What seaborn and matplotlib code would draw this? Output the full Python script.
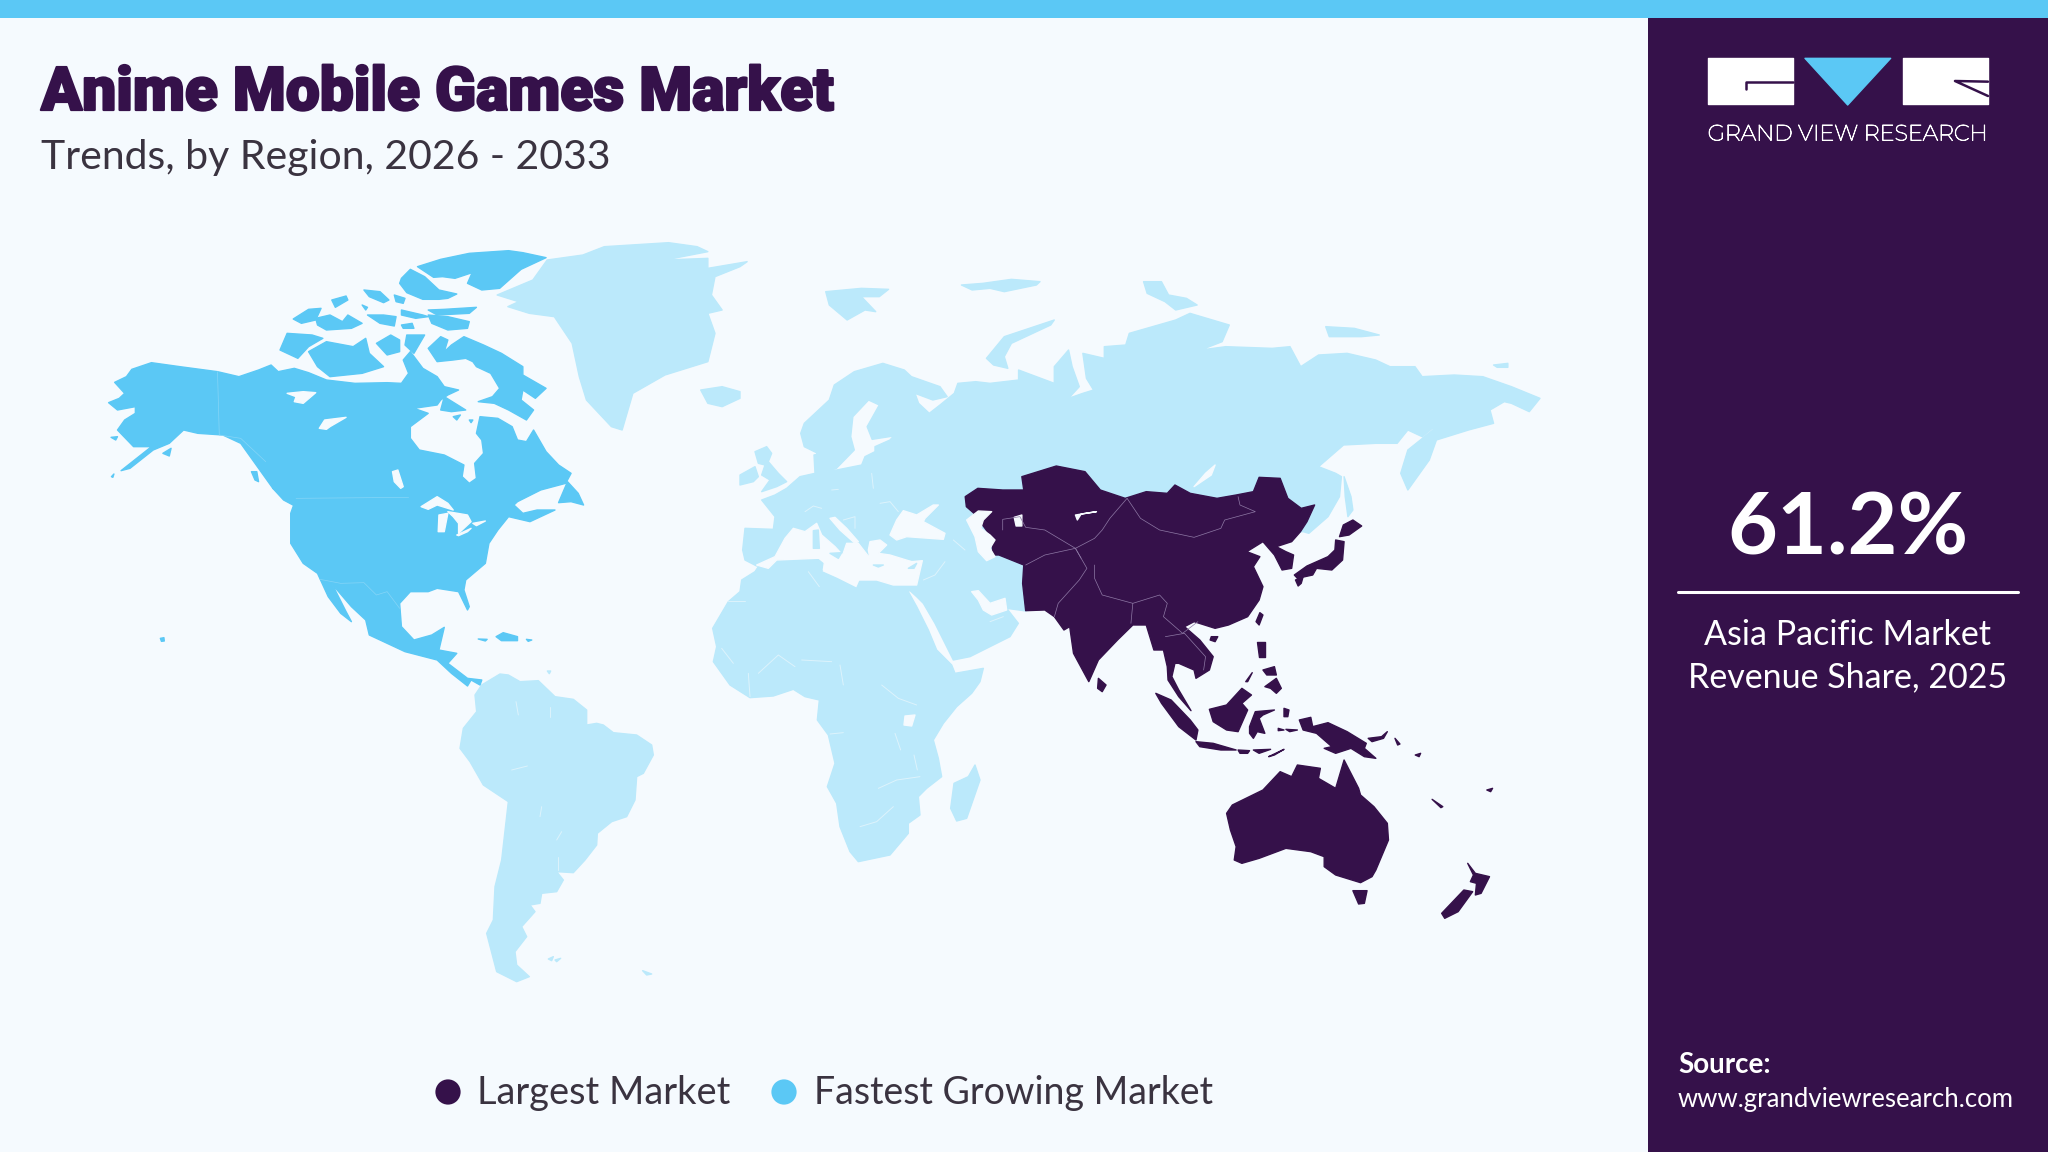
import matplotlib
matplotlib.use("Agg")
import matplotlib.pyplot as plt
import matplotlib.patheffects as pe
import pandas as pd
import seaborn as sns

TITLE = "Anime Mobile Games Market"
SUBTITLE = "Trends, by Region, 2026 - 2033"
LEGEND_LABELS = ["Largest Market", "Fastest Growing Market"]
SHARE_VALUE = "61.2%"
SHARE_LINES = ["Asia Pacific Market", "Revenue Share, 2025"]
SOURCE_LINES = ["Source:", "www.grandviewresearch.com"]
BRAND = "GRAND VIEW RESEARCH"

PURPLE = "#35114A"
BLUE = "#5BC8F5"
PALE = "#BBE9FB"
BG = "#F5FAFE"

# Map outlines: each frame is (x origin, y origin, x scale, y scale) of the tracing sheet
FRAMES = {"na": (80, 220, 2.8, 3), "ap": (930, 440, 2.613, 3), "ar": (440, 230, 1.4, 3),
          "eu": (690, 440, 3, 3), "af": (690, 550, 3, 3), "sa": (440, 660, 3, 3), "lg": (1660, 30, 3, 3)}

na_main = [(80,548),(110,535),(125,520),(97,487),(130,470),(145,448),(200,428),(280,440),(385,455),(445,470),(500,450),(535,435),(555,455),(600,445),(640,458),(690,480),(770,490),(860,488),(900,490),(920,460),(905,420),(925,395),(960,445),(1000,470),(1020,500),(1060,510),(1030,525),(1010,540),(1000,555),(935,565),(975,580),(925,620),(925,655),(950,690),(1020,705),(1075,735),(1070,770),(1090,790),(1110,775),(1105,730),(1130,700),(1125,660),(1110,640),(1120,590),(1170,595),(1210,620),(1225,660),(1250,665),(1270,630),(1305,695),(1340,735),(1375,760),(1360,790),(1290,810),(1225,845),(1215,855),(1240,880),(1280,870),(1330,870),(1260,905),(1200,890),(1170,930),(1145,970),(1135,1030),(1080,1080),(1075,1110),(1090,1160),(1085,1170),(1060,1115),(1000,1105),(975,1115),(925,1115),(895,1150),(900,1220),(935,1260),(985,1245),(1020,1222),(1005,1290),(1055,1300),(1030,1330),(1085,1375),(1125,1380),(1120,1395),(1095,1380),(1085,1398),(1040,1360),(1000,1320),(910,1295),(810,1245),(800,1200),(760,1160),(720,1110),(705,1090),(745,1175),(760,1205),(730,1180),(695,1130),(665,1060),(625,1030),(590,970),(590,880),(600,850),(540,805),(510,760),(450,670),(400,645),(330,640),(290,630),(250,670),(205,690),(140,745),(115,752),(200,680),(150,680),(105,630),(125,600),(155,580),(155,560),(105,570)]
na_islands = [
 [(945,140),(1010,118),(1090,100),(1200,92),(1240,98),(1305,113),(1235,148),(1175,205),(1125,210),(1085,190),(1098,158),(1050,175),(1015,170),(990,172)],
 [(900,175),(925,148),(965,170),(1005,210),(1055,222),(1030,235),(1005,238),(960,238),(915,218),(895,190)],
 [(975,285),(1030,290),(1090,305),(1085,325),(1030,330),(985,310)],
 [(975,270),(1020,268),(1110,262),(1090,280),(1000,285)],
 [(795,210),(840,215),(865,240),(850,248),(810,230)],
 [(880,225),(910,235),(905,250),(885,245)],
 [(900,270),(960,285),(975,290),(940,295),(900,285)],
 [(805,285),(850,285),(885,290),(880,318),(840,310)],
 [(900,315),(930,310),(935,325),(905,325)],
 [(705,240),(745,228),(750,240),(715,262)],
 [(790,255),(805,262),(800,270)],
 [(597,297),(640,268),(675,265),(660,300),(620,310)],
 [(660,295),(700,285),(735,305),(750,285),(790,310),(760,325),(690,330),(665,315)],
 [(560,390),(580,340),(650,345),(680,355),(640,380),(610,415)],
 [(640,395),(690,365),(765,380),(800,355),(810,400),(850,440),(790,460),(700,470),(665,440)],
 [(830,370),(870,345),(895,360),(895,395),(860,405)],
 [(915,345),(965,345),(935,400),(910,375)],
 [(975,385),(1010,350),(1030,360),(1020,395),(1040,375),(1075,350),(1130,375),(1180,400),(1240,440),(1240,465),(1305,505),(1275,535),(1240,510),(1235,540),(1270,570),(1250,600),(1200,570),(1160,550),(1115,545),(1155,530),(1175,505),(1150,460),(1110,440),(1100,425),(1080,415),(1045,420),(1000,425)],
 [(1020,530),(1080,570),(1040,575),(1010,570)],
 [(1045,590),(1065,585),(1055,600)],
 [(1090,600),(1100,600),(1095,608)],
 [(1365,785),(1395,820),(1410,855),(1375,845),(1340,848)],
 [(1165,1250),(1185,1238),(1225,1250),(1225,1262),(1180,1262)],
 [(1115,1257),(1140,1258),(1135,1263)],
 [(1250,1258),(1265,1260),(1255,1264)],
 [(225,1255),(235,1253),(236,1263),(228,1264)],
 [(540,805),(580,825),(605,860),(570,840)],
 [(480,755),(495,755),(500,785),(490,780)],
 [(232,700),(255,685),(250,708)],
 [(87,652),(105,650),(100,660)],
 [(88,770),(95,762),(92,772)],
]
na_water = [
 [(955,860),(1000,830),(1030,850),(1045,870),(1000,855),(975,868)],
 [(1005,885),(1030,880),(1020,935),(1003,935)],
 [(1030,875),(1085,885),(1095,905),(1060,940),(1060,910),(1045,890)],
 [(1055,945),(1095,925),(1085,935),(1060,947)],
 [(1100,910),(1135,903),(1110,917)],
 [(875,755),(890,750),(905,800),(898,805),(880,785)],
 [(670,625),(685,600),(745,592),(700,620),(690,628)],
 [(580,520),(625,515),(660,518),(625,550),(600,545),(605,530)],
 [(1120,480),(1145,475),(1148,490),(1125,495)],
]
na_borders = [[(605,835),(920,832)], [(385,455),(390,645),(450,655),(520,725)], [(672,1078),(730,1090),(795,1088),(830,1125),(860,1115),(895,1165)]]

# Eurasia ring, traced segment by segment
ea_north = [(505,610),(510,580),(545,510),(552,465),(580,425),(620,400),(650,420),(660,440),(700,470),(710,500),(690,510),(665,490),(670,520),(685,550),(700,525),(720,490),(725,460),(750,455),(770,460),(810,450),(810,420),(860,460),(860,410),(880,360),(885,410),(895,470),(880,505),(900,490),(915,480),(905,445),(900,370),(930,385),(930,350),(960,345),(965,310),(1030,270),(1050,250),(1105,285),(1095,335),(1065,360),(1100,350),(1165,355),(1190,350),(1205,410),(1230,375),(1270,370),(1310,390),(1330,410),(1365,410),(1375,440),(1420,435),(1460,440),(1500,470),(1540,505),(1525,545),(1500,520),(1490,515),(1470,540),(1475,580),(1440,600),(1395,630),(1385,690),(1355,780),(1345,730),(1355,660),(1390,600),(1395,585),(1375,620),(1355,600),(1340,640),(1310,640),(1265,645),(1230,710)]
ea_okhotsk = [(1060,100),(1075,110),(1070,170),(1040,230),(990,280),(975,275),(700,300),(250,510)]
ea_south = [(1008,513),(950,505),(985,550),(960,590),(900,620),(840,650),(790,660),(775,630),(735,550),(700,490),(680,470),(658,450),(675,435),(697,362),(540,355),(460,345),(200,378),(165,360),(158,330),(165,265),(250,268),(255,230),(215,180),(255,165),(290,145),(330,110),(375,100),(372,45),(395,40),(415,75),(400,95),(440,90),(515,75),(525,50),(555,35),(555,20),(600,0)]
ea_baltic = [(635,618),(605,628),(598,590),(615,525),(600,510),(578,560),(575,620),(580,660),(555,715),(533,725),(527,668),(510,650)]

eu_water = [
 [(200,375),(255,350),(285,295),(310,265),(345,275),(380,250),(395,285),(435,320),(458,345),(470,310),(505,310),(540,355),(535,330),(540,305),(570,300),(590,315),(565,340),(600,345),(665,365),(697,362),(680,435),(610,435),(560,420),(505,420),(495,420),(400,390),(405,355),(380,355),(260,360),(235,385)],
 [(420,235),(435,232),(470,265),(505,305),(495,310),(450,270)],
 [(600,285),(620,240),(640,212),(665,220),(680,225),(730,195),(745,195),(705,235),(700,245),(765,280),(760,298),(650,290),(620,300)],
 [(845,455),(865,452),(900,490),(945,475),(950,510),(905,525),(880,510),(865,480)],
]
eu_land = [
 [(195,35),(230,20),(245,40),(235,65),(265,100),(290,125),(260,140),(215,155),(240,120),(215,105),(225,75),(205,70)],
 [(150,105),(195,80),(205,110),(190,125),(150,135)],
 [(370,272),(385,270),(388,325),(370,325)],
 [(420,340),(455,338),(445,355)],
 [(550,375),(580,375),(565,381)],
 [(655,385),(680,370),(672,385)],
]
eu_lines = [[(345,215),(370,198),(395,205)], [(425,150),(445,148)], [(545,100),(550,145)], [(570,190),(600,185),(625,215)], [(460,240),(495,230),(495,265)], [(700,420),(735,405),(765,365)], [(790,300),(825,330)], [(900,545),(940,530)]]
ar_land = [
 [(80,195),(130,150),(150,90),(200,75),(230,50),(320,38),(360,50),(375,65),(315,90),(375,85),(375,115),(430,95),(420,110),(385,140),(380,195),(395,240),(375,250),(385,310),(375,395),(315,435),(270,490),(255,600),(240,590),(205,510),(195,440),(185,340),(160,260),(125,250),(95,230),(110,215)],
 [(365,480),(395,470),(420,485),(420,505),(395,530),(375,520)],
 [(540,185),(590,175),(628,178),(615,200),(590,200),(610,245),(595,240),(570,270),(545,225)],
 [(765,385),(790,320),(860,270),(855,285),(800,340),(790,380),(795,415),(775,405)],
 [(730,165),(760,160),(800,148),(840,155),(835,165),(790,185),(770,175),(745,180)],
 [(985,155),(1010,155),(1020,195),(1045,205),(1060,225),(1030,240),(1015,215),(990,190)],
 [(1240,290),(1280,295),(1315,315),(1290,320),(1245,320)],
 [(1475,405),(1495,400),(1495,412),(1480,412)],
]
ap_light = [[(1082,110),(1100,170),(1105,210),(1092,230),(1085,170)]]
africa = [(205,50),(285,32),(380,25),(405,45),(395,65),(440,85),(500,115),(510,92),(540,85),(610,105),(680,100),(655,125),(680,170),(715,240),(740,300),(785,345),(795,370),(880,355),(870,395),(845,430),(800,470),(760,520),(730,570),(745,625),(755,680),(710,715),(685,740),(690,795),(655,820),(655,850),(600,915),(505,935),(480,905),(450,830),(440,760),(412,710),(435,640),(415,555),(382,510),(388,450),(345,440),(310,418),(250,438),(180,443),(120,405),(70,335),(80,290),(68,235),(115,155),(150,125),(155,90),(195,65)]
madagascar = [(855,645),(870,690),(830,805),(800,813),(782,775),(792,700),(835,680)]
victoria = [(645,498),(675,495),(665,528),(642,525)]
af_lines = [[(115,153),(165,153)], [(175,370),(180,440)], [(205,370),(265,315),(315,350)], [(335,330),(425,335)], [(450,345),(460,405)], [(510,830),(560,815),(610,770)], [(565,715),(620,690),(690,680)], [(615,550),(632,600)], [(672,615),(682,660)], [(355,65),(388,110)], [(95,295),(130,340)], [(420,552),(460,548)], [(575,405),(625,445),(680,465)]]
south_america = [(125,75),(180,42),(205,45),(240,65),(295,62),(345,110),(400,118),(440,150),(440,195),(470,190),(490,195),(520,218),(590,225),(635,255),(640,285),(610,340),(590,350),(585,420),(560,470),(515,485),(472,520),(470,555),(435,600),(400,638),(350,635),(370,660),(350,695),(305,700),(300,730),(270,735),(285,755),(245,800),(260,830),(225,875),(230,915),(268,950),(230,965),(170,935),(140,820),(160,780),(165,680),(185,600),(205,425),(130,375),(90,305),(60,265),(70,205),(110,155),(105,105)]
sa_islands = [[(325,897),(340,890),(335,902)], [(345,900),(362,895),(350,905)], [(608,932),(635,942),(620,945)], [(322,33),(332,33),(328,41)]]
sa_lines = [[(228,125),(235,165)], [(330,140),(330,170)], [(300,470),(305,440)], [(350,540),(365,515)], [(355,590),(355,630)], [(215,330),(262,318)]]

ap_main = [(92,170),(125,145),(190,150),(245,150),(240,110),(330,78),(405,95),(445,150),(510,175),(565,155),(620,160),(640,135),(680,160),(750,175),(800,165),(845,155),(860,112),(915,115),(935,175),(970,205),(1005,195),(985,245),(968,275),(945,305),(905,320),(930,335),(950,345),(945,385),(920,390),(900,345),(870,305),(828,335),(862,350),(845,380),(870,440),(860,480),(830,530),(780,555),(745,565),(690,545),(665,560),(705,600),(740,650),(730,690),(695,715),(690,690),(650,670),(640,670),(632,710),(650,750),(682,812),(650,770),(622,720),(620,680),(610,630),(585,630),(565,555),(530,555),(490,600),(440,660),(415,725),(375,640),(365,560),(350,570),(325,530),(300,510),(250,512),(242,430),(245,375),(180,345),(165,345),(160,290),(150,275),(115,220),(95,200)]
ap_islands = [
 [(440,715),(460,735),(450,755),(438,745)],
 [(735,590),(752,590),(745,605),(732,600)],
 [(862,518),(870,525),(860,555),(852,545)],
 [(590,760),(630,780),(680,840),(700,870),(695,900),(650,860),(605,790)],
 [(695,905),(740,910),(800,930),(760,930),(705,920)],
 [(805,930),(835,932),(830,940),(810,940)],
 [(845,930),(890,928),(860,940)],
 [(885,950),(925,928),(900,945)],
 [(730,808),(775,795),(815,745),(840,765),(815,790),(830,810),(805,875),(775,870),(740,845)],
 [(835,860),(850,815),(900,810),(870,825),(860,835),(875,880),(855,875),(845,895),(835,880)],
 [(855,605),(875,605),(875,650),(860,650)],
 [(870,690),(900,680),(905,705),(880,705)],
 [(875,740),(905,715),(918,745),(905,760),(890,745)],
 [(825,725),(842,698),(830,725)],
 [(925,805),(938,810),(935,830),(925,830)],
 [(910,865),(925,870),(910,872)],
 [(930,868),(960,870),(940,875)],
 [(965,840),(995,832),(1000,860),(1040,848),(1090,875),(1140,910),(1135,925),(1165,955),(1135,950),(1100,925),(1060,940),(1030,925),(1050,920),(1010,880),(975,870)],
 [(1145,895),(1180,890),(1195,875),(1185,895),(1155,905)],
 [(1215,895),(1228,912),(1222,915)],
 [(1268,945),(1282,940),(1278,950)],
 [(1312,1078),(1340,1100),(1335,1103)],
 [(1455,1050),(1470,1045),(1465,1055)],
 [(775,1120),(790,1095),(870,1050),(915,995),(945,1010),(960,975),(1020,985),(1015,1015),(1060,1045),(1082,960),(1120,1045),(1125,1065),(1160,1100),(1195,1150),(1198,1200),(1165,1290),(1155,1310),(1125,1328),(1060,1305),(1030,1280),(1030,1250),(995,1235),(930,1225),(860,1255),(815,1270),(795,1260),(800,1220),(785,1170)],
 [(1105,1352),(1142,1352),(1135,1390),(1120,1392)],
 [(1405,1270),(1425,1300),(1462,1310),(1440,1360),(1425,1365),(1428,1330),(1412,1325),(1420,1305)],
 [(1337,1420),(1395,1350),(1418,1355),(1380,1415),(1345,1435)],
 [(1080,255),(1105,240),(1128,258),(1095,285),(1070,290)],
 [(1060,300),(1082,305),(1078,360),(1050,390),(1010,385),(1000,405),(960,415),(952,405),(985,378),(1040,350),(1058,330)],
 [(955,420),(975,410),(970,430),(962,438)],
]
ap_water = [
 [(220,232),(240,225),(240,258),(225,258)],
 [(380,225),(435,215),(395,222),(385,240)],
 [(745,75),(735,105),(690,140),(720,100)],
]
caspian = [(830,240),(865,213),(905,215),(880,240),(872,265),(900,285),(915,300),(900,325),(915,350),(890,362),(865,335),(855,290)]
ap_borders = [
 [(515,175),(550,235),(600,270),(690,292),(760,265),(770,240),(850,215),(810,195),(805,170)],
 [(515,175),(470,235),(450,270),(430,295),(380,325),(395,355)],
 [(430,375),(430,415),(450,465),(530,490),(600,465),(620,490),(610,530),(660,580),(700,545)],
 [(250,375),(300,345),(380,325),(410,385),(390,420),(335,490),(325,530)],
 [(190,270),(190,238),(235,230),(250,262),(300,270),(380,325)],
 [(530,490),(525,550)],
 [(615,590),(665,580),(720,650),(715,690)],
]
logo_g = [(145,85),(400,85),(400,222),(145,222)]
logo_v = [(435,85),(692,85),(563,225)]
logo_r = [(728,85),(984,85),(984,222),(728,222)]
logo_g_slit = [(400,155),(258,155),(258,178)]
logo_r_slit = [(984,155),(885,153),(984,198)]

LEGEND_X = [448, 784]
LEGEND_Y = [1092, 1092]
LEGEND_COLORS = [PURPLE, BLUE]


def px(points, frame):
    x0, y0, sx, sy = FRAMES[frame]
    return [x0 + p[0] / sx for p in points], [y0 + p[1] / sy for p in points]


def shape(ax, points, frame, color, z):
    xs, ys = px(points, frame)
    ax.fill(xs, ys, color=color, lw=1.0, joinstyle="round", zorder=z)


def trace(ax, lines, frame, color, width, z):
    for line in lines:
        xs, ys = px(line, frame)
        ax.plot(xs, ys, color=color, lw=width, zorder=z)


def ring(*parts):
    xs, ys = [], []
    for points, frame in parts:
        a, b = px(points, frame)
        xs += a
        ys += b
    return xs, ys


sns.set_theme(style="white")
plt.rcParams["font.family"] = ["Open Sans", "DejaVu Sans"]
fig = plt.figure(figsize=(20.48, 11.52), dpi=100, facecolor=BG)
ax = fig.add_axes([0, 0, 1, 1])
ax.set_xlim(0, 2048)
ax.set_ylim(1152, 0)
ax.axis("off")

ax.fill_between([0, 2048], 0, 18, color=BLUE, lw=0, zorder=1)
ax.fill_between([1648, 2048], 18, 1152, color=PURPLE, lw=0, zorder=1)

# pale land
xs, ys = ring((ea_north, "ar"), (ea_okhotsk, "ap"), (ea_south, "eu"), (ea_baltic, "ar"))
ax.fill(xs, ys, color=PALE, lw=1.0, joinstyle="round", zorder=2)
for poly in ar_land:
    shape(ax, poly, "ar", PALE, 2)
shape(ax, africa, "af", PALE, 2)
shape(ax, madagascar, "af", PALE, 2)
shape(ax, south_america, "sa", PALE, 2)
for poly in sa_islands:
    shape(ax, poly, "sa", PALE, 2)
for poly in ap_light:
    shape(ax, poly, "ap", PALE, 2)
for poly in eu_water:
    shape(ax, poly, "eu", BG, 3)
shape(ax, victoria, "af", BG, 3)
for poly in eu_land:
    shape(ax, poly, "eu", PALE, 4)
trace(ax, eu_lines, "eu", "#DDF3FC", 0.7, 4)
trace(ax, af_lines, "af", "#DDF3FC", 0.7, 4)
trace(ax, sa_lines, "sa", "#DDF3FC", 0.7, 4)

# fastest growing
shape(ax, na_main, "na", BLUE, 5)
for poly in na_islands:
    shape(ax, poly, "na", BLUE, 5)
for poly in na_water:
    shape(ax, poly, "na", BG, 6)
trace(ax, na_borders, "na", "#85D5F7", 0.5, 6)

# largest
shape(ax, ap_main, "ap", PURPLE, 7)
for poly in ap_islands:
    shape(ax, poly, "ap", PURPLE, 7)
for poly in ap_water:
    shape(ax, poly, "ap", BG, 8)
shape(ax, caspian, "eu", BG, 8)
trace(ax, ap_borders, "ap", "#8F7AA6", 0.5, 8)

# titles
ax.text(41, 94, TITLE, fontsize=43.5, fontweight="black", family=["Roboto", "DejaVu Sans"], color=PURPLE,
        va="center", ha="left", path_effects=[pe.withStroke(linewidth=1.6, foreground=PURPLE)], zorder=10)
ax.text(41, 157, SUBTITLE, fontsize=29.5, family=["Lato", "DejaVu Sans"], color="#3A3340",
        va="center", ha="left", zorder=10)

# legend
legend_df = pd.DataFrame({"x": LEGEND_X, "y": LEGEND_Y, "label": LEGEND_LABELS})
sns.scatterplot(data=legend_df, x="x", y="y", hue="label", hue_order=LEGEND_LABELS, palette=LEGEND_COLORS,
                s=330, linewidth=0, legend=False, ax=ax, zorder=10)
ax.set_xlim(0, 2048)
ax.set_ylim(1152, 0)
ax.set_xlabel("")
ax.set_ylabel("")
ax.text(477, 1093, LEGEND_LABELS[0], fontsize=27.4, family=["Lato", "DejaVu Sans"], color="#3A3340", va="center", zorder=10)
ax.text(814, 1093, LEGEND_LABELS[1], fontsize=27, family=["Lato", "DejaVu Sans"], color="#3A3340", va="center", zorder=10)

# side panel
shape(ax, logo_g, "lg", "white", 10)
shape(ax, logo_v, "lg", BLUE, 10)
shape(ax, logo_r, "lg", "white", 10)
trace(ax, [logo_g_slit, logo_r_slit], "lg", PURPLE, 1.8, 11)
ax.text(1848, 134, BRAND, fontsize=16, color="white", ha="center", va="center", fontweight="semibold",
        family=["Montserrat", "Open Sans", "DejaVu Sans"],
        path_effects=[pe.withStroke(linewidth=0.6, foreground="white")], zorder=11)
ax.text(1848, 530, SHARE_VALUE, fontsize=62, color="white", ha="center", va="center", fontweight="bold", family=["Lato", "DejaVu Sans"], zorder=11)
ax.plot([1678, 2018], [592, 592], color="white", lw=2.2, zorder=11)
ax.text(1848, 635, SHARE_LINES[0], fontsize=24.5, color="white", ha="center", va="center", family=["Lato", "DejaVu Sans"], zorder=11)
ax.text(1848, 677, SHARE_LINES[1], fontsize=24.5, color="white", ha="center", va="center", family=["Lato", "DejaVu Sans"], zorder=11)
ax.text(1678, 1065, SOURCE_LINES[0], fontsize=20, color="white", ha="left", va="center", fontweight="bold", family=["Lato", "DejaVu Sans"], zorder=11)
ax.text(1678, 1100, SOURCE_LINES[1], fontsize=18.5, color="white", ha="left", va="center", family=["Lato", "DejaVu Sans"], zorder=11)

fig.savefig("out.png", dpi=100, facecolor=BG)
